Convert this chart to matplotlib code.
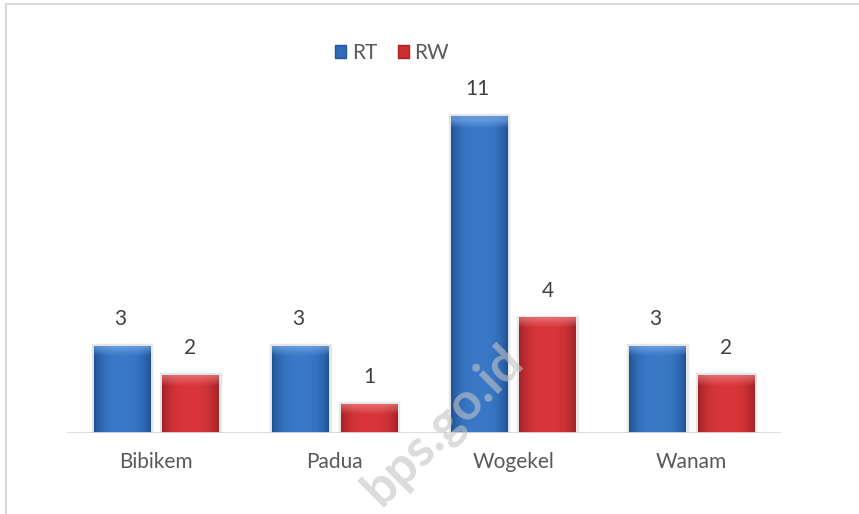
import numpy as np
import matplotlib.pyplot as plt
from matplotlib.colors import to_rgb
from matplotlib.patches import Rectangle
from matplotlib.lines import Line2D

plt.rcParams['font.family'] = ['Lato', 'DejaVu Sans']

# Dati
desa = ["Bibikem", "Padua", "Wogekel", "Wanam"]
rt = [3, 3, 11, 3]
rw = [2, 1, 4, 2]

fig = plt.figure(figsize=(8.59, 5.14), dpi=100)

# cornice esterna (solo sopra e a sinistra, come nell'originale)
fig.add_artist(Line2D([6 / 859, 1], [1 - 4 / 514, 1 - 4 / 514], color="#d9d9d9", lw=1.5))
fig.add_artist(Line2D([6 / 859, 6 / 859], [0, 1 - 4 / 514], color="#d9d9d9", lw=1.5))

ax = fig.add_axes([67 / 859, 1 - 433 / 514, 714 / 859, 374 / 514])

x = np.arange(len(desa))
w = 0.314
off = 0.192


def grad_bar(ax, xc, h, c_mid, c_edge, c_top):
    # gradiente orizzontale: bordi scuri, centro chiaro
    n = 64
    t = np.linspace(-1, 1, n)
    k = np.abs(t) ** 3
    mid = np.array(to_rgb(c_mid))
    edge = np.array(to_rgb(c_edge))
    row = mid[None, :] * (1 - k[:, None]) + edge[None, :] * k[:, None]
    img = np.repeat(row[None, :, :], 40, axis=0)
    # smusso in alto
    top = np.array(to_rgb(c_top))
    bev = max(1, int(40 * min(0.35 / h, 0.5)))
    for i in range(bev):
        a = 0.6 * (1 - i / bev)
        img[39 - i] = img[39 - i] * (1 - a) + top * a
    x0 = xc - w / 2
    # ombra chiara
    ax.add_patch(Rectangle((x0 - 0.012, 0), w + 0.024, h + 0.08, color="#e6e6e6", zorder=1))
    ax.imshow(img, extent=(x0, x0 + w, 0, h), origin="lower", aspect="auto",
              interpolation="bilinear", zorder=2)


for xi, v in zip(x, rt):
    grad_bar(ax, xi - off, v, "#3a79c8", "#1f5294", "#7fb0ea")
    ax.text(xi - off - 0.01, v + 0.6, str(v), ha="center", va="bottom", fontsize=15, color="#404040")
for xi, v in zip(x, rw):
    grad_bar(ax, xi + off, v, "#d8363a", "#a32226", "#f08a8c")
    ax.text(xi + off, v + 0.6, str(v), ha="center", va="bottom", fontsize=15, color="#404040")

ax.set_aspect("auto")
ax.set_xlim(-0.5, 3.5)
ax.set_ylim(0, 13)

ax.axhline(0, color="#d9d9d9", lw=2, zorder=3)
for s in ax.spines.values():
    s.set_visible(False)
ax.set_yticks([])
ax.set_xticks(x)
ax.set_xticklabels(desa, fontsize=15, color="#595959")
ax.tick_params(axis="x", length=0, pad=14)

# legenda
hs = [Rectangle((0, 0), 1, 1, facecolor="#2f6cb8", edgecolor="#23589c"),
      Rectangle((0, 0), 1, 1, facecolor="#c9302f", edgecolor="#a82328")]
fig.legend(hs, ["RT", "RW"], loc="center", bbox_to_anchor=(392 / 859, 1 - 53 / 514), ncol=2,
           frameon=False, fontsize=15, labelcolor="#595959", handlelength=0.55, handleheight=0.55,
           handletextpad=0.25, columnspacing=1.0)

# filigrana, sopra le barre
fig.text(443 / 859, 1 - 425 / 514, "bps.go.id", rotation=45, ha="center", va="center",
         fontsize=37, fontweight="bold", color="#c4c4c4", alpha=0.6, zorder=10)

fig.savefig("out.png", dpi=100)
